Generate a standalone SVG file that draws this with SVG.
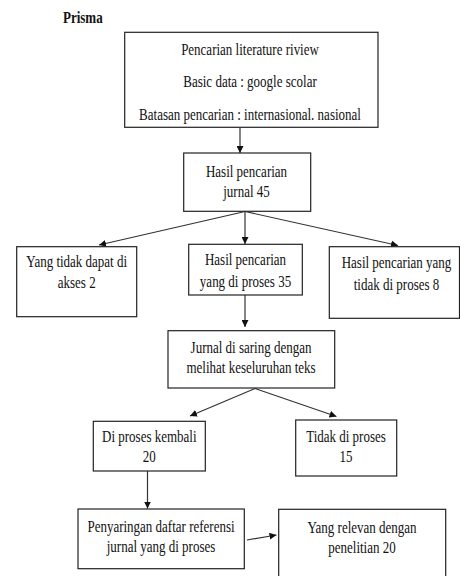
<svg xmlns="http://www.w3.org/2000/svg" width="460" height="576" viewBox="0 0 460 576">
<defs>
<marker id="ah" viewBox="0 0 8 8" refX="8" refY="4" markerWidth="7" markerHeight="7" markerUnits="userSpaceOnUse" orient="auto">
<path d="M0,0 L8,4 L0,8 z" fill="#111"/>
</marker>
<style>
.b{fill:#fff;stroke:#222;stroke-width:1.2}
.t{font-size:13px;fill:#111;text-anchor:middle}
.c{fill:none;stroke:#333;stroke-width:1.2;marker-end:url(#ah)}
</style>
</defs>
<rect width="460" height="576" fill="#fff"/>
<g font-family="'Liberation Serif', serif">
<text transform="translate(63,23) scale(1,1.25)" font-size="13" font-weight="bold" fill="#111">Prisma</text>
<g id="connectors">
<path class="c" d="M240,127.5 V153"/>
<path class="c" d="M245,211.5 L99,245"/>
<path class="c" d="M245,211.5 V244"/>
<path class="c" d="M245,211.5 L398,245.5"/>
<path class="c" d="M245,295 V327"/>
<path class="c" d="M255,388.5 L190,416"/>
<path class="c" d="M255,388.5 L336.5,416.5"/>
<path class="c" d="M147.5,471 V508.5"/>
<path class="c" d="M247,540 L276.5,535"/>
</g>
<g id="n1">
<rect class="b" x="124.7" y="32.3" width="253.3" height="95"/>
<text class="t" transform="translate(250,55) scale(1,1.3)">Pencarian literature riview</text>
<text class="t" transform="translate(250,87) scale(1,1.3)">Basic data : google scolar</text>
<text class="t" transform="translate(250,120) scale(1,1.3)">Batasan pencarian : internasional. nasional</text>
</g>
<g id="n2">
<rect class="b" x="183.7" y="153" width="127" height="58.3"/>
<text class="t" transform="translate(246.5,176.7) scale(1,1.3)">Hasil pencarian</text>
<text class="t" transform="translate(246.5,196.7) scale(1,1.3)">jurnal 45</text>
</g>
<g id="n3">
<rect class="b" x="16.7" y="246.7" width="120" height="70"/>
<text class="t" transform="translate(76.7,266.7) scale(1,1.3)">Yang tidak dapat di</text>
<text class="t" transform="translate(76.7,288.3) scale(1,1.3)">akses 2</text>
</g>
<g id="n4">
<rect class="b" x="188.7" y="244.3" width="113.6" height="50.7"/>
<text class="t" transform="translate(245.5,265) scale(1,1.3)">Hasil pencarian</text>
<text class="t" transform="translate(245.5,286.7) scale(1,1.3)">yang di proses 35</text>
</g>
<g id="n5">
<rect class="b" x="329.3" y="246.7" width="130.2" height="71.6"/>
<text class="t" transform="translate(396.5,268.3) scale(1,1.3)">Hasil pencarian yang</text>
<text class="t" transform="translate(396.5,290) scale(1,1.3)">tidak di proses 8</text>
</g>
<g id="n6">
<rect class="b" x="168" y="330.7" width="166.7" height="57.3"/>
<text class="t" transform="translate(251,353.3) scale(1,1.3)">Jurnal di saring dengan</text>
<text class="t" transform="translate(251,373.3) scale(1,1.3)">melihat keseluruhan teks</text>
</g>
<g id="n7">
<rect class="b" x="93.3" y="421.3" width="112" height="49.7"/>
<text class="t" transform="translate(149.3,441.7) scale(1,1.3)">Di proses kembali</text>
<text class="t" transform="translate(149.3,461.7) scale(1,1.3)">20</text>
</g>
<g id="n8">
<rect class="b" x="295.7" y="420" width="101" height="56"/>
<text class="t" transform="translate(346,441.7) scale(1,1.3)">Tidak di proses</text>
<text class="t" transform="translate(346,461.7) scale(1,1.3)">15</text>
</g>
<g id="n9">
<rect class="b" x="78" y="509" width="166.3" height="59.7"/>
<text class="t" transform="translate(161,531.7) scale(1,1.3)">Penyaringan daftar referensi</text>
<text class="t" transform="translate(161,551.7) scale(1,1.3)">jurnal yang di proses</text>
</g>
<g id="n10">
<rect class="b" x="278.7" y="509.3" width="167" height="80"/>
<text class="t" transform="translate(362,533.3) scale(1,1.3)">Yang relevan dengan</text>
<text class="t" transform="translate(362,553.3) scale(1,1.3)">penelitian 20</text>
</g>
</g>
</svg>
